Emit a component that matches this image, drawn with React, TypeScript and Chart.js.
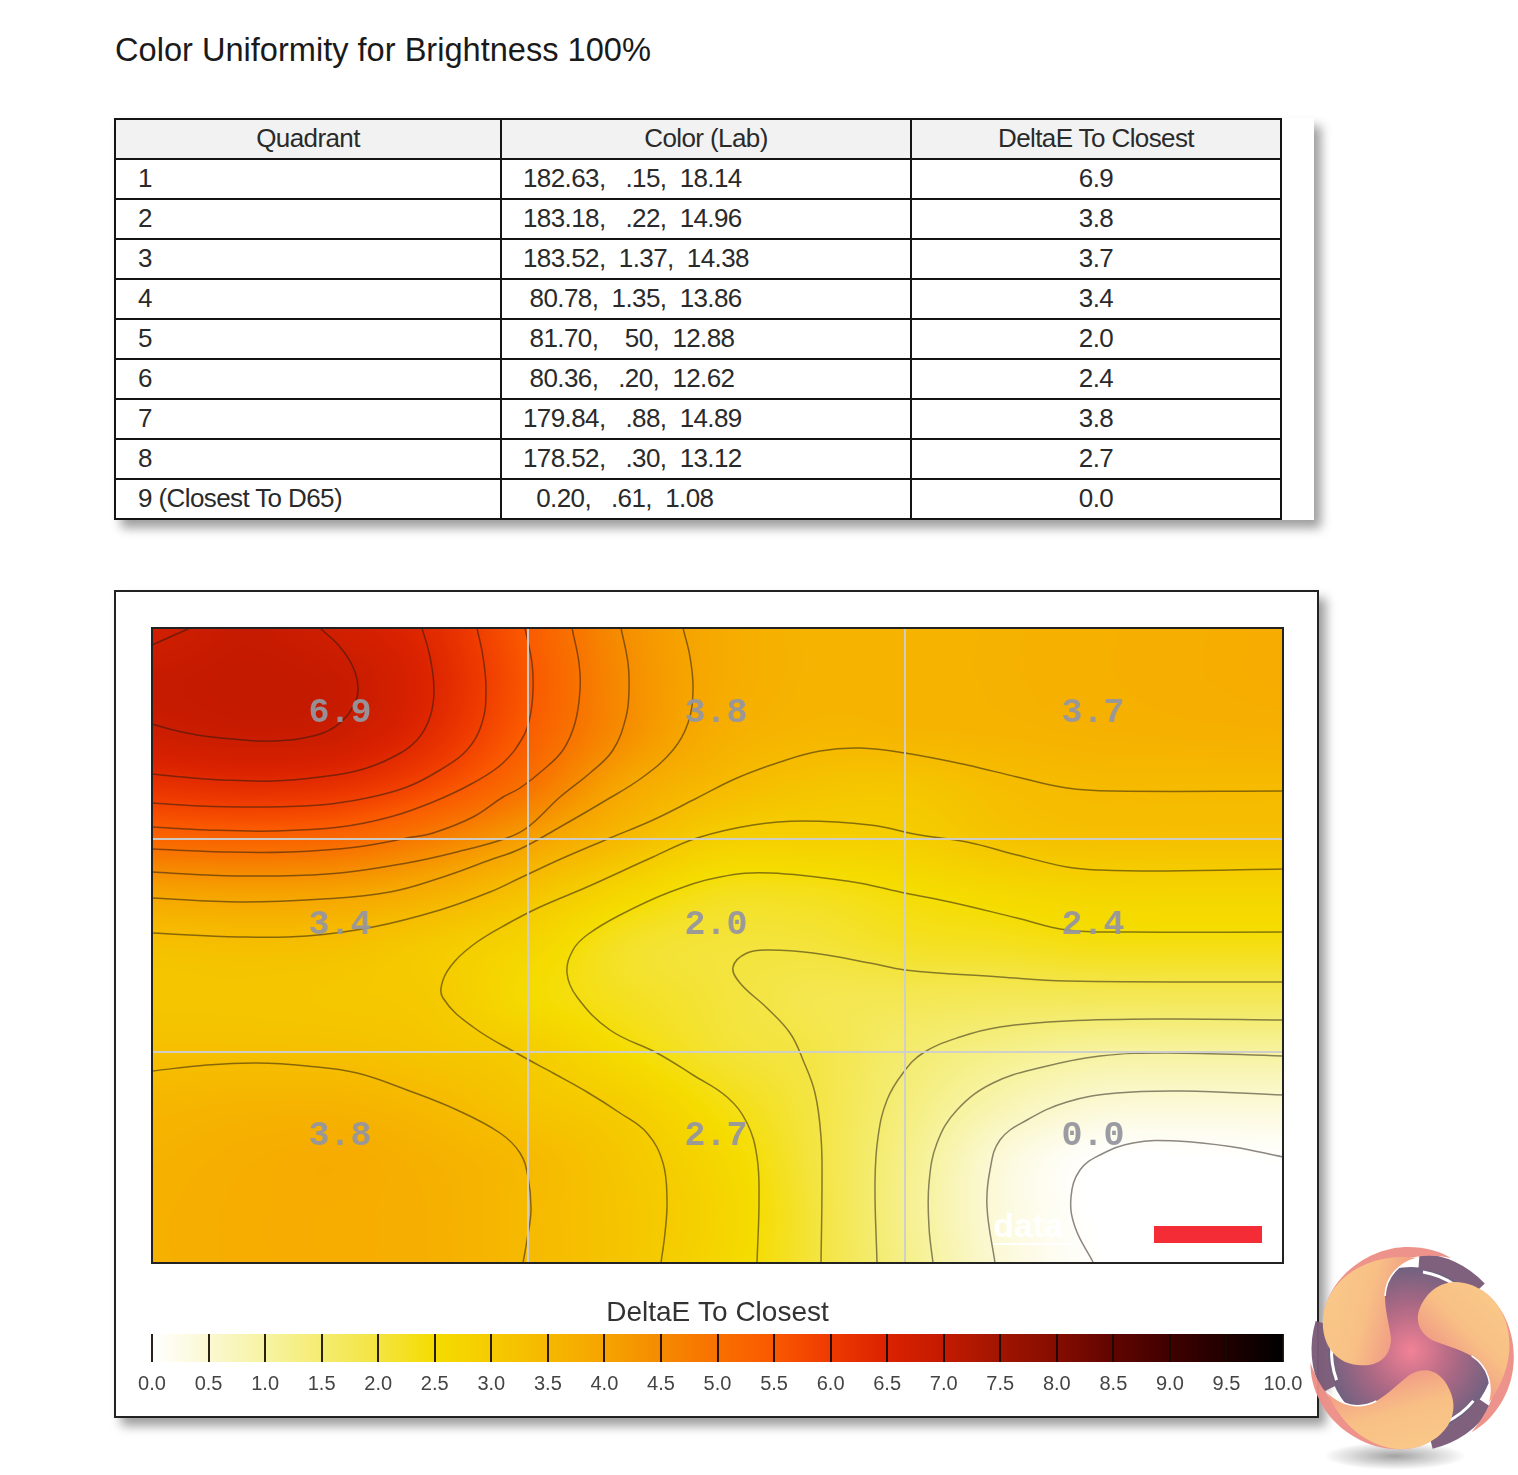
import React, { useEffect, useRef } from "react";
import { Chart, registerables } from "chart.js";

Chart.register(...registerables);

const PAGE_TITLE = "Color Uniformity for Brightness 100%";
const TABLE_HEAD = ["Quadrant", "Color (Lab)", "DeltaE To Closest"];
const QUADRANTS = ["1", "2", "3", "4", "5", "6", "7", "8", "9 (Closest To D65)"];
const LAB = [
  "182.63,   .15,  18.14",
  "183.18,   .22,  14.96",
  "183.52,  1.37,  14.38",
  " 80.78,  1.35,  13.86",
  " 81.70,    50,  12.88",
  " 80.36,   .20,  12.62",
  "179.84,   .88,  14.89",
  "178.52,   .30,  13.12",
  "  0.20,   .61,  1.08",
];
const DELTA_E = ["6.9", "3.8", "3.7", "3.4", "2.0", "2.4", "3.8", "2.7", "0.0"];

const PANEL_X_MAX = 1131;
const PANEL_Y_MAX = 635;
const CELL_X = [188, 564, 941];
const CELL_Y = [85, 297, 508];
const GRID_X = [376, 753];
const GRID_Y = [211, 424];

// field, 13 columns by 13 rows across the panel
const FIELD = [
  [6.7, 6.95, 6.7, 6.3, 5.42, 4.43, 3.85, 3.62, 3.6, 3.65, 3.7, 3.75, 3.8],
  [6.95, 7.0, 6.92, 6.4, 5.5, 4.48, 3.85, 3.62, 3.6, 3.65, 3.7, 3.75, 3.8],
  [6.8, 6.9, 6.8, 6.25, 5.37, 4.43, 3.75, 3.55, 3.57, 3.6, 3.65, 3.68, 3.7],
  [6.15, 6.25, 6.15, 5.7, 4.93, 3.94, 3.45, 3.2, 3.15, 3.35, 3.45, 3.45, 3.45],
  [5.2, 5.25, 5.15, 4.7, 4.05, 3.45, 2.9, 2.85, 2.9, 3.18, 3.28, 3.28, 3.28],
  [4.0, 4.05, 4.0, 3.7, 3.22, 2.68, 2.3, 2.3, 2.46, 2.62, 2.72, 2.72, 2.72],
  [3.28, 3.33, 3.28, 3.03, 2.72, 2.2, 2.05, 2.05, 2.2, 2.25, 2.35, 2.35, 2.35],
  [3.15, 3.15, 3.1, 3.03, 2.55, 2.25, 2.05, 1.85, 1.8, 1.75, 1.75, 1.75, 1.75],
  [3.3, 3.3, 3.28, 3.15, 2.96, 2.5, 2.12, 1.93, 1.53, 1.25, 1.05, 1.05, 1.05],
  [3.55, 3.6, 3.6, 3.45, 3.15, 2.92, 2.4, 1.97, 1.38, 0.85, 0.5, 0.45, 0.45],
  [3.65, 3.75, 3.8, 3.65, 3.45, 3.1, 2.65, 2.0, 1.25, 0.45, 0.03, 0, 0.03],
  [3.7, 3.78, 3.78, 3.7, 3.45, 3.15, 2.75, 2.05, 1.2, 0.4, 0, 0, 0],
  [3.7, 3.78, 3.78, 3.7, 3.45, 3.15, 2.7, 2.05, 1.25, 0.45, 0.03, 0, 0],
];

const COLOR_STOPS = [
  "#ffffff", "#fbf8d2", "#f7f3a2", "#f4ec70", "#f4e440", "#f5dc00", "#f5cb00",
  "#f6b800", "#f6a400", "#f68a00", "#f87000", "#fa5800", "#ee3a00", "#da2200",
  "#c41a00", "#a01500", "#850c00", "#600500", "#400000", "#200000", "#000000",
];
const COLOR_STEP = 0.5;

const C65A = [[0, 17], [18, 9], [38, 0]];
const C65B = [[168, 0], [188, 19], [201, 39], [206, 59], [203, 75], [188, 95], [165, 107], [121, 113], [81, 111], [45, 107], [21, 102], [0, 96]];
const C60 = [[270, 0], [278, 29], [282, 62], [278, 89], [265, 112], [241, 129], [208, 142], [168, 149], [121, 153], [71, 152], [31, 149], [0, 146]];
const C55 = [[325, 0], [331, 29], [334, 62], [330, 95], [315, 122], [288, 142], [255, 159], [215, 170], [168, 177], [105, 179], [48, 178], [0, 175]];
const C50 = [[373, 0], [380, 35], [381, 62], [378, 89], [371, 109], [351, 135], [321, 155], [281, 174], [238, 189], [188, 199], [121, 203], [55, 202], [0, 199]];
const C45 = [[420, 0], [427, 35], [428, 62], [423, 95], [411, 122], [391, 142], [368, 160], [351, 169], [321, 189], [281, 205], [255, 210], [205, 219], [138, 224], [71, 224], [0, 221]];
const C40 = [[469, 0], [476, 35], [477, 62], [474, 89], [461, 122], [438, 145], [408, 169], [376, 199], [355, 210], [305, 224], [255, 235], [188, 245], [121, 248], [55, 247], [0, 244]];
const C35 = [[531, 0], [538, 29], [541, 62], [536, 95], [521, 122], [491, 149], [451, 174], [408, 199], [368, 221], [338, 232], [288, 250], [238, 264], [171, 271], [88, 274], [0, 270]];
const C30 = [[1131, 163], [961, 163], [915, 160], [865, 149], [815, 137], [753, 125], [708, 120], [668, 123], [628, 134], [585, 150], [545, 170], [501, 192], [458, 210], [411, 230], [368, 250], [338, 264], [288, 282], [221, 299], [155, 308], [88, 309], [0, 305]];
const C30B = [[0, 443], [55, 437], [105, 435], [155, 438], [205, 445], [255, 462], [305, 482], [348, 505], [368, 525], [376, 549], [379, 582], [375, 612], [371, 635]];
const C25 = [[1131, 241], [1015, 243], [948, 242], [915, 239], [865, 227], [815, 214], [768, 207], [718, 197], [651, 193], [601, 197], [545, 210], [501, 229], [435, 259], [388, 279], [355, 296], [325, 314], [303, 333], [291, 352], [291, 370], [321, 399], [368, 427], [401, 445], [435, 464], [468, 485], [495, 505], [511, 535], [515, 572], [513, 605], [509, 635]];
const C20 = [[1131, 304], [981, 304], [915, 302], [865, 290], [798, 274], [748, 264], [701, 254], [618, 245], [568, 249], [518, 264], [468, 287], [435, 307], [421, 322], [415, 345], [425, 369], [458, 402], [505, 425], [541, 447], [575, 469], [595, 495], [605, 529], [607, 572], [605, 635]];
const C15 = [[1131, 354], [915, 353], [848, 349], [753, 342], [718, 335], [661, 325], [618, 322], [595, 325], [581, 339], [588, 355], [615, 380], [638, 405], [651, 432], [663, 465], [669, 509], [670, 555], [669, 635]];
const C10 = [[1131, 392], [1015, 391], [915, 393], [848, 399], [808, 409], [771, 425], [751, 445], [735, 472], [726, 509], [723, 555], [725, 635]];
const C05 = [[1131, 428], [1015, 425], [948, 428], [891, 439], [841, 455], [805, 482], [785, 515], [777, 555], [777, 599], [781, 635]];
const C02 = [[1131, 467], [1031, 463], [965, 465], [915, 474], [875, 492], [848, 512], [838, 542], [835, 579], [843, 635]];
const C00 = [[1131, 529], [1081, 519], [1025, 513], [981, 515], [948, 527], [928, 542], [919, 569], [923, 599], [941, 634]];
const CONTOURS = [C65A, C65B, C60, C55, C50, C45, C40, C35, C30, C30B, C25, C20, C15, C10, C05, C02, C00];

const LEGEND_TITLE = "DeltaE To Closest";
const LEGEND_MIN = 0;
const LEGEND_MAX = 10;
const LEGEND_STEP = 0.5;

function hexToRgb(h: string) {
  return [parseInt(h.slice(1, 3), 16), parseInt(h.slice(3, 5), 16), parseInt(h.slice(5, 7), 16)];
}
const STOPS_RGB = COLOR_STOPS.map(hexToRgb);
function colorOf(v: number) {
  const t = Math.max(0, Math.min(COLOR_STOPS.length - 1.0001, v / COLOR_STEP));
  const i = Math.floor(t);
  const f = t - i;
  const a = STOPS_RGB[i];
  const b = STOPS_RGB[i + 1];
  return [a[0] + (b[0] - a[0]) * f, a[1] + (b[1] - a[1]) * f, a[2] + (b[2] - a[2]) * f];
}
function cubic(p0: number, p1: number, p2: number, p3: number, t: number) {
  return 0.5 * (2 * p1 + (p2 - p0) * t + (2 * p0 - 5 * p1 + 4 * p2 - p3) * t * t + (3 * p1 - p0 - 3 * p2 + p3) * t * t * t);
}
function sampleField(u: number, v: number) {
  const rows = FIELD.length;
  const cols = FIELD[0].length;
  const gx = Math.max(0, Math.min(cols - 1.0001, u * (cols - 1)));
  const gy = Math.max(0, Math.min(rows - 1.0001, v * (rows - 1)));
  const ix = Math.floor(gx);
  const iy = Math.floor(gy);
  const at = (r: number, c: number) => FIELD[Math.max(0, Math.min(rows - 1, r))][Math.max(0, Math.min(cols - 1, c))];
  const rowVal = (r: number) => cubic(at(r, ix - 1), at(r, ix), at(r, ix + 1), at(r, ix + 2), gx - ix);
  return cubic(rowVal(iy - 1), rowVal(iy), rowVal(iy + 1), rowVal(iy + 2), gy - iy);
}

const heatPlugin = {
  id: "heat",
  beforeDatasetsDraw(chart: any) {
    const { ctx, chartArea: a, scales } = chart;
    const w = Math.round(a.right - a.left);
    const h = Math.round(a.bottom - a.top);
    const off = document.createElement("canvas");
    off.width = w;
    off.height = h;
    const oc = off.getContext("2d")!;
    const img = oc.createImageData(w, h);
    for (let py = 0; py < h; py++) {
      const v = scales.y.getValueForPixel(a.top + py + 0.5) / PANEL_Y_MAX;
      for (let px = 0; px < w; px++) {
        const u = scales.x.getValueForPixel(a.left + px + 0.5) / PANEL_X_MAX;
        const c = colorOf(Math.max(0, sampleField(u, v)));
        const k = (py * w + px) * 4;
        img.data[k] = c[0];
        img.data[k + 1] = c[1];
        img.data[k + 2] = c[2];
        img.data[k + 3] = 255;
      }
    }
    oc.putImageData(img, 0, 0);
    ctx.drawImage(off, a.left, a.top);
  },
  afterDraw(chart: any) {
    const { ctx, chartArea: a, scales } = chart;
    ctx.save();
    ctx.beginPath();
    ctx.rect(a.left, a.top, a.right - a.left, a.bottom - a.top);
    ctx.clip();
    ctx.font = "bold 34px 'Liberation Sans'";
    ctx.fillStyle = "rgba(255,255,255,0.92)";
    ctx.textBaseline = "alphabetic";
    ctx.textAlign = "left";
    ctx.fillText("data", scales.x.getPixelForValue(841), scales.y.getPixelForValue(609));
    ctx.fillRect(scales.x.getPixelForValue(841), scales.y.getPixelForValue(615), 80, 2);
    ctx.fillStyle = "#f42c36";
    ctx.fillRect(scales.x.getPixelForValue(1002), scales.y.getPixelForValue(598), 108, 17);
    ctx.font = "bold 35px 'Liberation Mono'";
    ctx.textAlign = "center";
    ctx.textBaseline = "middle";
    ctx.fillStyle = "rgba(150,150,158,0.95)";
    for (let i = 0; i < 9; i++) {
      const col = i % 3;
      const row = Math.floor(i / 3);
      ctx.fillText(DELTA_E[i], scales.x.getPixelForValue(CELL_X[col]), scales.y.getPixelForValue(CELL_Y[row]));
    }
    ctx.restore();
  },
};

const FONT = "'Liberation Sans', Arial, sans-serif";

function Logo() {
  const blade = "M -20,-13 C -20,8 -35,16 -53,14 C -78,12 -90,-10 -88,-33 C -85,-70 -45,-100 7,-93 C -12,-88 -25,-75 -26,-55 C -26,-40 -22,-28 -20,-13 Z";
  const rim = "M -88,-30 C -86,-70 -45,-104 -3,-104 C 15,-104 28,-100 40,-93 C 15,-98 -10,-95 -30,-80 Z";
  return (
    <svg width={228} height={245} style={{ position: "absolute", left: 1290, top: 1230, opacity: 0.96 }} viewBox="0 0 228 245">
      <defs>
        <radialGradient id="lgc" cx="50%" cy="50%" r="50%">
          <stop offset="0%" stopColor="#f27d92" />
          <stop offset="55%" stopColor="#a8627f" />
          <stop offset="100%" stopColor="#6b5b7b" />
        </radialGradient>
        <linearGradient id="lgb" x1="0" y1="0" x2="1" y2="0.3">
          <stop offset="0%" stopColor="#fac987" />
          <stop offset="55%" stopColor="#f8bd80" />
          <stop offset="100%" stopColor="#ef8f80" />
        </linearGradient>
        <radialGradient id="lgs" cx="50%" cy="50%" r="50%">
          <stop offset="0%" stopColor="rgba(0,0,0,0.38)" />
          <stop offset="100%" stopColor="rgba(0,0,0,0)" />
        </radialGradient>
      </defs>
      <ellipse cx={105} cy={226} rx={72} ry={14} fill="url(#lgs)" />
      <g transform="translate(121,121)">
        <circle r={84} fill="url(#lgc)" />
        {[0, 120, 240].map((r) => (
          <g key={r} transform={`rotate(${r})`}>
            <path d="M 8,-90 A 92 92 0 0 1 68,-62" fill="none" stroke="#7a5a78" strokeWidth={16} />
            <path d="M 12,-79 A 80 80 0 0 1 44,-66" fill="none" stroke="#ffffff" strokeWidth={3} />
          </g>
        ))}
        {[0, 120, 240].map((r) => (
          <g key={r} transform={`rotate(${r})`}>
            <path d={rim} fill="#ee8f87" />
            <path d={blade} fill="url(#lgb)" />
            <path d="M 7,-93 C -12,-88 -25,-75 -26,-55" fill="none" stroke="#fff" strokeWidth={1.5} />
          </g>
        ))}
      </g>
    </svg>
  );
}

export default function App() {
  const heatRef = useRef<HTMLCanvasElement>(null);
  const legendRef = useRef<HTMLCanvasElement>(null);

  useEffect(() => {
    const heat = new Chart(heatRef.current!, {
      type: "line",
      data: {
        datasets: CONTOURS.map((c, i) => ({
          label: `contour ${i}`,
          data: c.map(([x, y]) => ({ x, y })),
          borderColor: "rgba(35,25,15,0.52)",
          borderWidth: 1.5,
          pointRadius: 0,
          tension: 0.4,
          fill: false,
        })),
      },
      options: {
        animation: false,
        responsive: false,
        devicePixelRatio: 1,
        layout: { padding: 0 },
        plugins: { legend: { display: false }, tooltip: { enabled: false }, title: { display: false } },
        scales: {
          x: {
            type: "linear",
            min: 0,
            max: PANEL_X_MAX,
            afterBuildTicks: (s: any) => { s.ticks = GRID_X.map((value) => ({ value })); },
            ticks: { display: false },
            border: { display: false },
            grid: { color: "rgba(205,205,205,0.95)", lineWidth: 2, drawTicks: false, z: 1 },
          },
          y: {
            type: "linear",
            reverse: true,
            min: 0,
            max: PANEL_Y_MAX,
            afterBuildTicks: (s: any) => { s.ticks = GRID_Y.map((value) => ({ value })); },
            ticks: { display: false },
            border: { display: false },
            grid: { color: "rgba(205,205,205,0.95)", lineWidth: 2, drawTicks: false, z: 1 },
          },
        },
      } as any,
      plugins: [heatPlugin as any],
    });

    const legend = new Chart(legendRef.current!, {
      type: "bar",
      data: {
        labels: [LEGEND_TITLE],
        datasets: [
          {
            label: LEGEND_TITLE,
            data: [[LEGEND_MIN, LEGEND_MAX]],
            barPercentage: 1,
            categoryPercentage: 1,
            borderWidth: 0,
            backgroundColor: (ctx: any) => {
              const a = ctx.chart.chartArea;
              if (!a) return "#fff";
              const g = ctx.chart.ctx.createLinearGradient(a.left, 0, a.right, 0);
              COLOR_STOPS.forEach((c, i) => g.addColorStop(i / (COLOR_STOPS.length - 1), c));
              return g;
            },
          },
        ],
      },
      options: {
        indexAxis: "y",
        animation: false,
        responsive: false,
        devicePixelRatio: 1,
        layout: { padding: { left: 37, right: 36, top: 0, bottom: 0 } },
        plugins: {
          legend: { display: false },
          tooltip: { enabled: false },
          title: {
            display: true,
            text: LEGEND_TITLE,
            color: "#333",
            font: { family: FONT, size: 28, weight: "normal", lineHeight: 1.2 },
            padding: { top: 6, bottom: 4.4 },
          },
        },
        scales: {
          x: {
            type: "linear",
            min: LEGEND_MIN,
            max: LEGEND_MAX,
            afterFit: (s: any) => { s.height = 48; },
            ticks: {
              stepSize: LEGEND_STEP,
              autoSkip: false,
              maxRotation: 0,
              padding: 10,
              color: "#444",
              font: { family: FONT, size: 20 },
              callback: (v: any) => Number(v).toFixed(1),
            },
            border: { display: false },
            grid: { color: "rgba(20,10,0,0.9)", lineWidth: 2, drawTicks: false, z: 1 },
          },
          y: { display: false },
        },
      } as any,
    });

    return () => {
      heat.destroy();
      legend.destroy();
    };
  }, []);

  const cell: React.CSSProperties = {
    border: "2px solid #141414",
    padding: 0,
    height: 38,
    fontFamily: FONT,
    fontSize: 26,
    color: "#2a2a2a",
    whiteSpace: "pre",
    letterSpacing: "-0.6px",
    lineHeight: "36px",
    verticalAlign: "top",
    overflow: "hidden",
  };

  return (
    <div style={{ position: "absolute", left: 0, top: 0, width: 1518, height: 1475, overflow: "hidden", background: "#fff" }}>
      <div style={{ position: "absolute", left: 115, top: 30, fontFamily: FONT, fontSize: 32.6, lineHeight: "40px", color: "#1a1a1a", whiteSpace: "nowrap" }}>{PAGE_TITLE}</div>

      <div style={{ position: "absolute", left: 114, top: 118, width: 1200, height: 402, background: "#fff", boxShadow: "7px 8px 10px rgba(0,0,0,0.38)" }}>
        <table style={{ borderCollapse: "collapse", tableLayout: "fixed", width: 1166, position: "absolute", left: 0, top: 0 }}>
          <colgroup>
            <col style={{ width: 386 }} />
            <col style={{ width: 410 }} />
            <col style={{ width: 370 }} />
          </colgroup>
          <thead>
            <tr>
              {TABLE_HEAD.map((h) => (
                <th key={h} style={{ ...cell, background: "#f2f2f2", fontWeight: "normal", textAlign: "center" }}>{h}</th>
              ))}
            </tr>
          </thead>
          <tbody>
            {QUADRANTS.map((q, i) => (
              <tr key={q}>
                <td style={{ ...cell, paddingLeft: 22 }}>{q}</td>
                <td style={{ ...cell, paddingLeft: 21 }}>{LAB[i]}</td>
                <td style={{ ...cell, textAlign: "center" }}>{DELTA_E[i]}</td>
              </tr>
            ))}
          </tbody>
        </table>
      </div>

      <div style={{ position: "absolute", left: 114, top: 590, width: 1205, height: 828, boxSizing: "border-box", border: "2px solid #222", background: "#fff", boxShadow: "7px 8px 10px rgba(0,0,0,0.38)" }} />
      <canvas ref={heatRef} width={1131} height={635} style={{ position: "absolute", left: 152, top: 628, outline: "2px solid #222", outlineOffset: -1 }} />
      <canvas ref={legendRef} width={1204} height={120} style={{ position: "absolute", left: 115, top: 1290 }} />
      <Logo />
    </div>
  );
}
